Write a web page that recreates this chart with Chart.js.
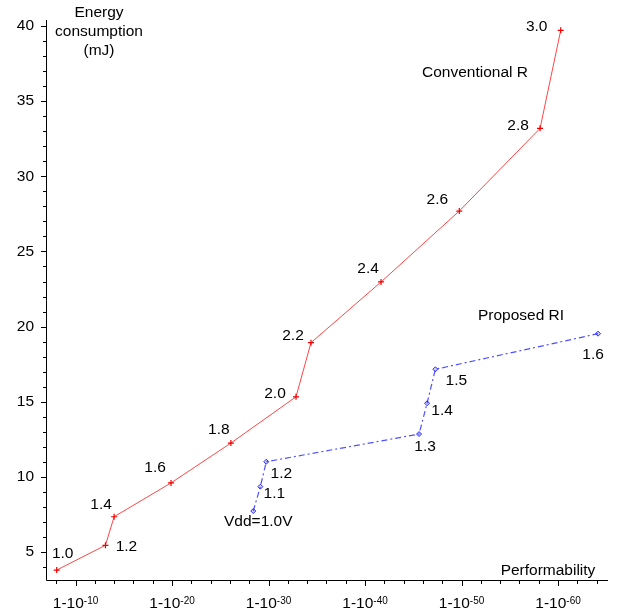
<!DOCTYPE html>
<html>
<head>
<meta charset="utf-8">
<script src="https://cdn.jsdelivr.net/npm/chart.js@4.4.1/dist/chart.umd.min.js"></script>
<style>
  html, body { margin: 0; padding: 0; background: #fff; }
  #wrap { width: 620px; height: 613px; }
</style>
</head>
<body>
<div id="wrap"><canvas id="myChart" width="620" height="613"></canvas></div>
<script>
// performability exponent n (value is 1-10^-n) and energy in mJ
const convX = [8.05, 13.1, 14.0, 19.9, 26.1, 32.85, 34.4, 41.66, 49.77, 58.14, 60.28];
const convY = [3.8, 5.45, 7.35, 9.6, 12.25, 15.33, 18.93, 22.97, 27.69, 33.19, 39.71];
const convVdd = ['1.0', '1.2', '1.4', '1.6', '1.8', '2.0', '2.2', '2.4', '2.6', '2.8', '3.0'];

const propX = [28.42, 29.15, 29.77, 45.6, 46.43, 47.29, 64.15];
const propY = [7.73, 9.35, 11.01, 12.85, 14.9, 17.16, 19.53];
const propVdd = ['Vdd=1.0V', '1.1', '1.2', '1.3', '1.4', '1.5', '1.6'];

const xTickExps = [10, 20, 30, 40, 50, 60];
const yTickLabels = [5, 10, 15, 20, 25, 30, 35, 40];

// label offsets in pixels from each point
const convOffsets = [[6, -16], [21, 1], [-13, -12], [-16, -15], [-12, -13], [-21, -3], [-18, -7], [-13, -13], [-22, -11], [-22, -3], [-24, -4]];
const propOffsets = [[5, 11], [14, 7], [15, 12], [6, 13], [15, 7], [21, 11], [-5, 21]];

const FONT = 'Liberation Sans, Arial, Helvetica, sans-serif';

function toPoints(xs, ys) {
    return xs.map((x, i) => ({ x: x, y: ys[i] }));
}

// draws axes, ticks, tick labels, titles and point labels
const decorations = {
    id: 'decorations',
    afterDraw(chart) {
        const ctx = chart.ctx;
        const xs = chart.scales.x;
        const ys = chart.scales.y;
        const area = chart.chartArea;
        ctx.save();
        ctx.strokeStyle = '#000';
        ctx.fillStyle = '#000';
        ctx.lineWidth = 1;

        // axis lines
        ctx.beginPath();
        ctx.moveTo(area.left + 0.5, area.top);
        ctx.lineTo(area.left + 0.5, area.bottom + 0.5);
        ctx.lineTo(area.right, area.bottom + 0.5);
        ctx.stroke();

        // x ticks every 2
        ctx.beginPath();
        for (let n = 8; n <= 64; n += 2) {
            const px = Math.round(xs.getPixelForValue(n)) + 0.5;
            const len = n % 10 === 0 ? 6 : 4;
            ctx.moveTo(px, area.bottom);
            ctx.lineTo(px, area.bottom + len);
        }
        // y ticks every 1
        for (let v = 4; v <= 40; v++) {
            const py = Math.round(ys.getPixelForValue(v)) + 0.5;
            const len = v % 5 === 0 ? 5 : 3;
            ctx.moveTo(area.left, py);
            ctx.lineTo(area.left - len, py);
        }
        ctx.stroke();

        // y tick labels
        ctx.font = '15.5px ' + FONT;
        ctx.textAlign = 'right';
        ctx.textBaseline = 'middle';
        yTickLabels.forEach(v => {
            ctx.fillText(String(v), 34, ys.getPixelForValue(v));
        });

        // x tick labels: 1-10 with superscript exponent
        ctx.textBaseline = 'alphabetic';
        ctx.textAlign = 'left';
        xTickExps.forEach(n => {
            const cx = xs.getPixelForValue(n);
            const base = '1-10';
            const sup = '-' + n;
            ctx.font = '15.5px ' + FONT;
            const w1 = ctx.measureText(base).width;
            ctx.font = '10px ' + FONT;
            const w2 = ctx.measureText(sup).width;
            const start = cx - (w1 + w2) / 2;
            ctx.font = '15.5px ' + FONT;
            ctx.fillText(base, start, 608);
            ctx.font = '10px ' + FONT;
            ctx.fillText(sup, start + w1, 604);
        });

        // axis titles and series names
        ctx.font = '15.5px ' + FONT;
        ctx.textAlign = 'center';
        ctx.textBaseline = 'middle';
        ctx.fillText('Energy', 99, 13);
        ctx.fillText('consumption', 99, 32);
        ctx.fillText('(mJ)', 99, 51);
        ctx.fillText('Performability', 548, 571);
        ctx.fillText('Conventional R', 475, 73);
        ctx.fillText('Proposed RI', 521, 316);

        // point labels
        const sets = [[convVdd, convOffsets], [propVdd, propOffsets]];
        sets.forEach((s, di) => {
            const meta = chart.getDatasetMeta(di);
            meta.data.forEach((pt, i) => {
                ctx.fillText(s[0][i], pt.x + s[1][i][0], pt.y + s[1][i][1]);
            });
        });
        ctx.restore();
    }
};

function createChart() {
    const ctx = document.getElementById('myChart').getContext('2d');
    const chart = new Chart(ctx, {
        type: 'scatter',
        data: {
            datasets: [{
                label: 'Conventional R',
                data: toPoints(convX, convY),
                showLine: true,
                borderColor: 'rgb(255, 70, 70)',
                backgroundColor: 'rgb(255, 70, 70)',
                borderWidth: 1,
                pointStyle: 'cross',
                pointRadius: 3,
                pointBorderWidth: 1.2,
                pointBorderColor: 'rgb(240, 0, 0)'
            }, {
                label: 'Proposed RI',
                data: toPoints(propX, propY),
                showLine: true,
                borderColor: 'rgb(80, 80, 255)',
                backgroundColor: 'rgba(70, 70, 255, 0.25)',
                borderWidth: 1.2,
                borderDash: [6, 3, 2, 3],
                pointStyle: 'rectRot',
                pointRadius: 2.5,
                pointBorderWidth: 1,
                pointBorderColor: 'rgb(40, 40, 255)'
            }]
        },
        options: {
            responsive: false,
            animation: false,
            layout: { padding: { left: 46, right: 12, top: 20, bottom: 33 } },
            plugins: {
                legend: { display: false },
                tooltip: { enabled: false }
            },
            scales: {
                x: { type: 'linear', min: 6.94, max: 65.18, display: false },
                y: { type: 'linear', min: 3.14, max: 40.4, display: false }
            }
        },
        plugins: [decorations]
    });
}

document.addEventListener("DOMContentLoaded", function() {
    createChart();
});
</script>
</body>
</html>
